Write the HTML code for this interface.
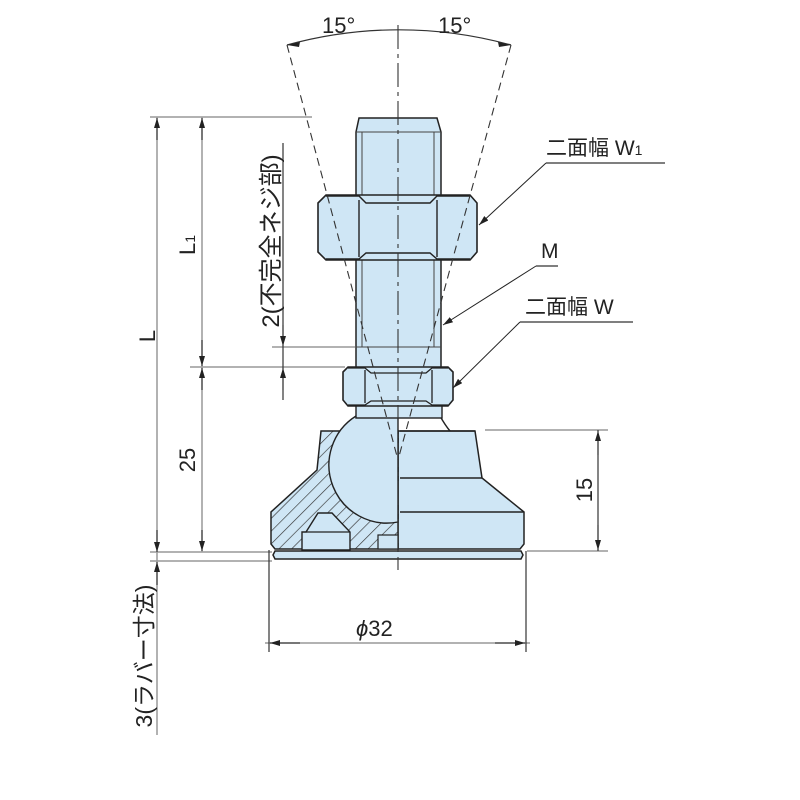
<!DOCTYPE html>
<html><head><meta charset="utf-8"><style>
html,body{margin:0;padding:0;background:#fff;width:800px;height:800px;overflow:hidden}
svg{display:block}
text{font-family:"Liberation Sans","Noto Sans CJK JP",sans-serif;fill:#222}
</style></head><body>
<svg width="800" height="800" viewBox="0 0 800 800" xmlns="http://www.w3.org/2000/svg">
<defs>
<pattern id="h" patternUnits="userSpaceOnUse" width="9" height="9" patternTransform="rotate(45)">
<rect width="9" height="9" fill="#cfe6f5"/><line x1="0" y1="0" x2="0" y2="9" stroke="#333" stroke-width="1.3"/>
</pattern>
<marker id="a" markerWidth="10" markerHeight="6" refX="10" refY="3" orient="auto" markerUnits="userSpaceOnUse"><path d="M0,0 L10,3 L0,6z" fill="#222"/></marker>
</defs>
<g stroke="#999" stroke-width="1.5" fill="none">
<line x1="150" y1="117" x2="312" y2="117"/>
<line x1="190" y1="367" x2="345" y2="367"/>
<line x1="272" y1="347" x2="355" y2="347"/>
<line x1="150" y1="552" x2="272" y2="552"/>
<line x1="150" y1="561" x2="272" y2="561"/>
<line x1="485" y1="430" x2="608" y2="430"/>
<line x1="527" y1="551" x2="608" y2="551"/>
<line x1="265" y1="643" x2="530" y2="643"/>
</g>
<g stroke="#333" stroke-width="1.2" fill="none">
<line x1="157" y1="117" x2="157" y2="735" stroke="#999" stroke-width="1.5"/>
<line x1="202" y1="117" x2="202" y2="552" stroke="#999" stroke-width="1.5"/>
<line x1="283" y1="143" x2="283" y2="400"/>
<line x1="598" y1="430" x2="598" y2="551"/>
<line x1="269" y1="550" x2="269" y2="652"/>
<line x1="526" y1="551" x2="526" y2="652"/>
</g>
<g stroke="#222" stroke-width="1" marker-end="url(#a)">
<line x1="157" y1="140" x2="157" y2="118"/>
<line x1="157" y1="530" x2="157" y2="552"/>
<line x1="157" y1="585" x2="157" y2="562"/>
<line x1="202" y1="140" x2="202" y2="118"/>
<line x1="202" y1="340" x2="202" y2="366"/>
<line x1="202" y1="390" x2="202" y2="368"/>
<line x1="202" y1="530" x2="202" y2="551"/>
<line x1="283" y1="325" x2="283" y2="346"/>
<line x1="283" y1="390" x2="283" y2="368"/>
<line x1="598" y1="455" x2="598" y2="431"/>
<line x1="598" y1="525" x2="598" y2="550"/>
<line x1="300" y1="643" x2="270" y2="643"/>
<line x1="495" y1="643" x2="525" y2="643"/>
<line x1="546" y1="163" x2="479" y2="225"/>
<line x1="536" y1="266" x2="443" y2="325"/>
<line x1="520" y1="322" x2="453" y2="388"/>
</g>
<g stroke="#333" stroke-width="1.2">
<line x1="546" y1="163" x2="665" y2="163"/>
<line x1="536" y1="266" x2="558" y2="266"/>
<line x1="520" y1="322" x2="633" y2="322"/>
</g>
<path d="M287,45 A420,420 0 0 1 511,45" fill="none" stroke="#333" stroke-width="1.2"/>
<path d="M300,42 L287,45 L299,47z M498,42 L511,45 L499,47z" fill="#222"/>
<path d="M275,551 L521,551 L523,555 L521,559 L275,559 L273,555z" fill="#cfe6f5" stroke="#222" stroke-width="1.5"/>
<path d="M398,431 L475,431 L482,478 L524,512 L524,544 L520,549 L398,549z" fill="#cfe6f5" stroke="#222" stroke-width="1.5"/>
<path d="M398,431 L321,431 L317,470 L271,512 L271,544 L275,549 L398,549z" fill="url(#h)" stroke="#222" stroke-width="1.5"/>
<path d="M302,550 L302,532 L306,532 L318,513 L332,513 L350,532 L350,550z" fill="#cfe6f5" stroke="#222" stroke-width="1.4"/>
<line x1="306" y1="532" x2="350" y2="532" stroke="#222" stroke-width="1.2"/>
<rect x="378" y="535" width="20" height="14" fill="#cfe6f5" stroke="#222" stroke-width="1.2"/>
<g stroke="#222" stroke-width="1.4"><line x1="400" y1="431" x2="475" y2="431"/><line x1="400" y1="478" x2="482" y2="478"/><line x1="400" y1="512" x2="524" y2="512"/></g>
<path d="M356,416 A58,58 0 0 0 398,522 L398,416z" fill="#cfe6f5" stroke="#222" stroke-width="1.4"/>
<path d="M440,416 Q445,425 450,431" fill="none" stroke="#222" stroke-width="1.4"/>
<rect x="356" y="404" width="86" height="14" fill="#cfe6f5" stroke="#222" stroke-width="1.4"/>
<path d="M356,132 L359,118 L437,118 L441,132 L441,404 L356,404z" fill="#cfe6f5" stroke="#222" stroke-width="1.5"/>
<g stroke="#444" stroke-width="1"><line x1="356" y1="132" x2="441" y2="132"/><line x1="362" y1="132" x2="362" y2="347"/><line x1="434" y1="132" x2="434" y2="347"/><line x1="356" y1="347" x2="441" y2="347"/></g>
<path d="M318,203 L326,195 L470,195 L477,203 L477,252 L470,260 L326,260 L318,252z" fill="#cfe6f5" stroke="#222" stroke-width="1.6"/>
<g stroke="#222" stroke-width="1.4" fill="none"><path d="M326,196 L359,196 L366,203 L430,203 L437,196 L470,196"/><path d="M326,259 L359,259 L366,253 L430,253 L437,259 L470,259"/><line x1="359" y1="200" x2="359" y2="257"/><line x1="437" y1="200" x2="437" y2="257"/></g>
<path d="M343,372 L348,367 L448,367 L453,372 L453,400 L448,406 L348,406 L343,400z" fill="#cfe6f5" stroke="#222" stroke-width="1.6"/>
<g stroke="#222" stroke-width="1.3" fill="none"><path d="M348,368 L365,368 L371,373 L426,373 L432,368 L448,368"/><path d="M348,405 L365,405 L371,401 L426,401 L432,405 L448,405"/><line x1="365" y1="370" x2="365" y2="403"/><line x1="432" y1="370" x2="432" y2="403"/></g>
<g stroke="#333" stroke-width="1.1" stroke-dasharray="8,5" fill="none">
<line x1="287" y1="45" x2="398" y2="460"/>
<line x1="511" y1="45" x2="398" y2="460"/>
</g>
<line x1="398" y1="25" x2="398" y2="570" stroke="#333" stroke-width="1.1" stroke-dasharray="24,5,4,5"/>
<text x="322" y="33" font-size="22">15°</text>
<text x="438" y="33" font-size="22">15°</text>
<text x="546" y="155" font-size="21">二面幅 W<tspan font-size="14">1</tspan></text>
<text x="541" y="258" font-size="21">M</text>
<text x="525" y="314" font-size="21">二面幅 W</text>
<text x="356" y="636" font-size="22" font-style="italic">ϕ<tspan font-style="normal">32</tspan></text>
<text transform="translate(155,336) rotate(-90)" font-size="22" text-anchor="middle">L</text>
<text transform="translate(195,245) rotate(-90)" font-size="22" text-anchor="middle">L<tspan font-size="14">1</tspan></text>
<text transform="translate(195,460) rotate(-90)" font-size="22" text-anchor="middle">25</text>
<text transform="translate(279,241) rotate(-90)" font-size="24" text-anchor="middle">2(不完全ネジ部)</text>
<text transform="translate(592,490) rotate(-90)" font-size="22" text-anchor="middle">15</text>
<text transform="translate(152,656) rotate(-90)" font-size="23" text-anchor="middle">3(ラバー寸法)</text>
</svg>
</body></html>
